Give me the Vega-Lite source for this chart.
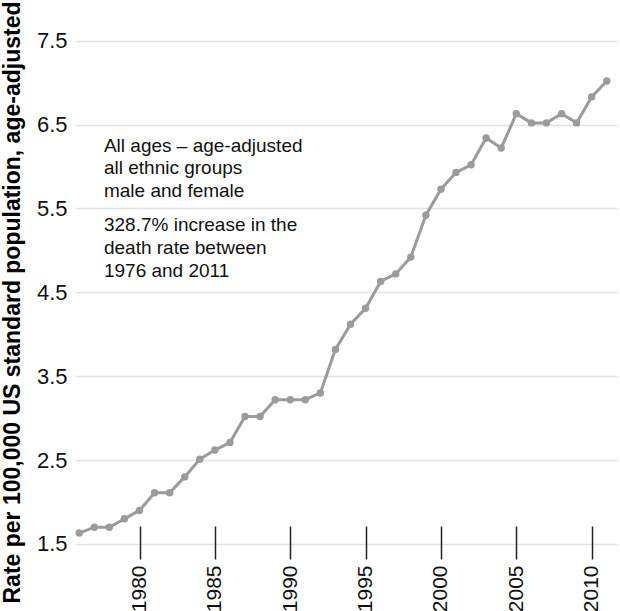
{
  "$schema": "https://vega.github.io/schema/vega-lite/v6.json",
  "autosize": {"type": "none"},
  "width": 542,
  "height": 559,
  "padding": {"left": 75, "top": 0, "right": 3, "bottom": 52},
  "background": "white",
  "config": {"view": {"stroke": null}, "font": "Liberation Sans"},
  "layer": [
    {
      "data": {"values": [
        {"year": 1976, "rate": 1.63}, {"year": 1977, "rate": 1.70}, {"year": 1978, "rate": 1.70},
        {"year": 1979, "rate": 1.80}, {"year": 1980, "rate": 1.90}, {"year": 1981, "rate": 2.11},
        {"year": 1982, "rate": 2.11}, {"year": 1983, "rate": 2.30}, {"year": 1984, "rate": 2.51},
        {"year": 1985, "rate": 2.62}, {"year": 1986, "rate": 2.71}, {"year": 1987, "rate": 3.02},
        {"year": 1988, "rate": 3.02}, {"year": 1989, "rate": 3.22}, {"year": 1990, "rate": 3.22},
        {"year": 1991, "rate": 3.22}, {"year": 1992, "rate": 3.30}, {"year": 1993, "rate": 3.82},
        {"year": 1994, "rate": 4.12}, {"year": 1995, "rate": 4.31}, {"year": 1996, "rate": 4.63},
        {"year": 1997, "rate": 4.72}, {"year": 1998, "rate": 4.92}, {"year": 1999, "rate": 5.42},
        {"year": 2000, "rate": 5.73}, {"year": 2001, "rate": 5.93}, {"year": 2002, "rate": 6.02},
        {"year": 2003, "rate": 6.34}, {"year": 2004, "rate": 6.22}, {"year": 2005, "rate": 6.63},
        {"year": 2006, "rate": 6.52}, {"year": 2007, "rate": 6.52}, {"year": 2008, "rate": 6.63},
        {"year": 2009, "rate": 6.52}, {"year": 2010, "rate": 6.83}, {"year": 2011, "rate": 7.02}
      ]},
      "mark": {
        "type": "line", "color": "#9b9b9b", "strokeWidth": 3,
        "point": {"filled": true, "size": 55, "color": "#9b9b9b", "opacity": 1}
      },
      "encoding": {
        "x": {
          "field": "year", "type": "quantitative",
          "scale": {"domain": [1975.72, 2011.68], "nice": false, "zero": false},
          "axis": {
            "values": [1980, 1985, 1990, 1995, 2000, 2005, 2010],
            "format": "d", "title": null, "grid": false, "domain": false,
            "ticks": true, "tickSize": -33, "tickColor": "#222222", "tickWidth": 1.5,
            "labelAngle": -90, "labelFontSize": 21, "labelColor": "#111111",
            "labelPadding": 39, "labelFont": "Liberation Sans"
          }
        },
        "y": {
          "field": "rate", "type": "quantitative",
          "scale": {"domain": [1.321, 7.985], "nice": false, "zero": false},
          "axis": {
            "values": [1.5, 2.5, 3.5, 4.5, 5.5, 6.5, 7.5],
            "format": ".1f",
            "title": "Rate per 100,000 US standard population, age-adjusted",
            "titleFontSize": 23, "titleFontWeight": "bold", "titleColor": "#000000",
            "titleFont": "Liberation Sans", "titlePadding": 12, "titleY": 302,
            "labelFontSize": 22, "labelColor": "#111111", "labelPadding": 8,
            "labelFont": "Liberation Sans",
            "ticks": false, "domain": false,
            "grid": true, "gridColor": "#e2e2e2", "gridWidth": 1.5
          }
        }
      }
    },
    {
      "data": {"values": [{"block": "a"}]},
      "mark": {
        "type": "text", "align": "left", "baseline": "alphabetic",
        "fontSize": 19, "lineHeight": 22.7, "color": "#111111", "font": "Liberation Sans"
      },
      "encoding": {
        "x": {"datum": 1977.64},
        "y": {"datum": 6.177},
        "text": {"value": ["All ages \u2013 age-adjusted", "all ethnic groups", "male and female"]}
      }
    },
    {
      "data": {"values": [{"block": "b"}]},
      "mark": {
        "type": "text", "align": "left", "baseline": "alphabetic",
        "fontSize": 19, "lineHeight": 23, "color": "#111111", "font": "Liberation Sans"
      },
      "encoding": {
        "x": {"datum": 1977.64},
        "y": {"datum": 5.235},
        "text": {"value": ["328.7% increase in the", "death rate between", "1976 and 2011"]}
      }
    }
  ]
}
